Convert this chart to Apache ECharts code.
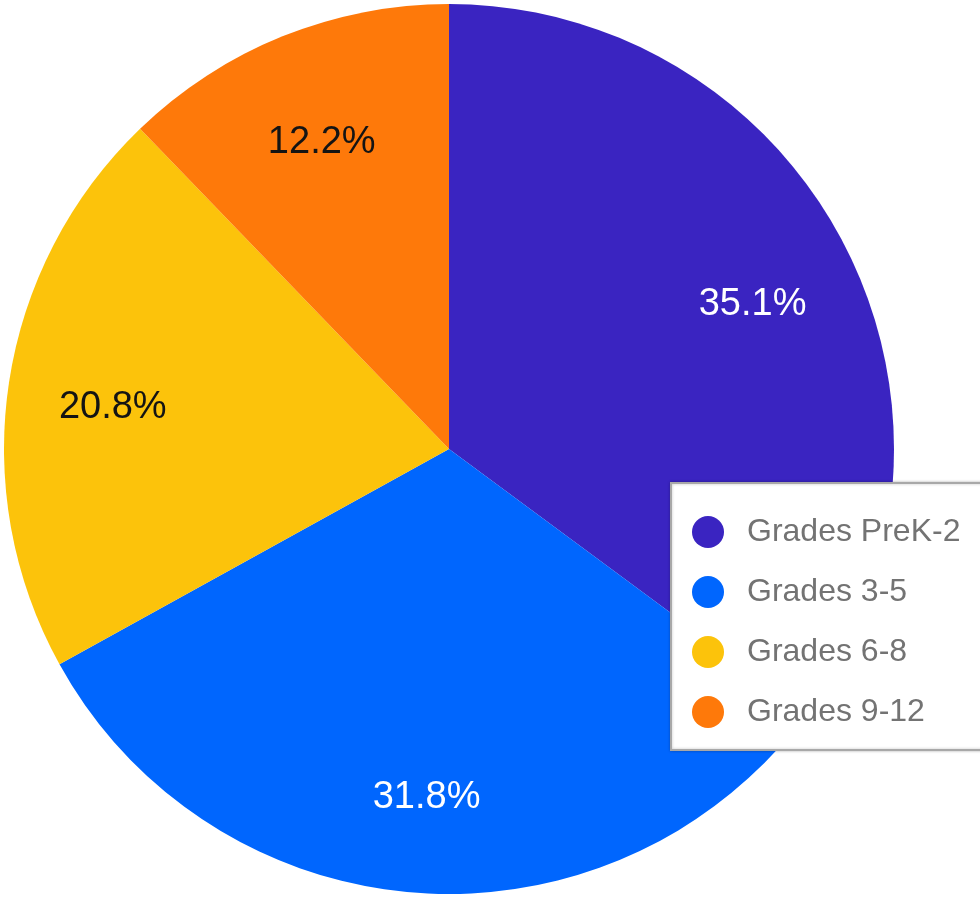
<!DOCTYPE html>
<html>
<head>
<meta charset="utf-8">
<script src="https://cdn.jsdelivr.net/npm/echarts@6/dist/echarts.min.js"></script>
<style>
html, body { margin: 0; padding: 0; background: #fff; }
#pie { width: 980px; height: 897px; }
</style>
</head>
<body>
<div id="pie"></div>
<script>
// 数据
var grades = ['Grades PreK-2', 'Grades 3-5', 'Grades 6-8', 'Grades 9-12'];
var shares = [35.1, 31.8, 20.8, 12.2];
var colors = ['#3a24c1', '#0066fe', '#fcc30b', '#fe790a'];
var labelColors = ['#ffffff', '#ffffff', '#141414', '#141414'];

function pie(obj){
    var myChart = echarts.init(obj);

    var slices = [];
    var labels = [];
    for(var i=0;i<grades.length;i++){
        slices.push({name: grades[i], value: shares[i], itemStyle: {color: colors[i]}});
        labels.push({value: shares[i], label: {color: labelColors[i]}});
    }

    var option = {
        animation: false,
        legend: {
            data: grades,
            orient: 'vertical',
            left: 671,
            top: 483,
            padding: [33, 40, 22, 21],
            itemWidth: 32,
            itemHeight: 32,
            itemGap: 28,
            icon: 'circle',
            backgroundColor: '#fff',
            borderColor: '#a8a8a8',
            borderWidth: 2,
            shadowColor: 'rgba(0,0,0,0.25)',
            shadowBlur: 3,
            textStyle: {
                fontFamily: 'Liberation Sans',
                fontSize: 32,
                color: '#737373',
                padding: [0, 0, 0, 18]
            }
        },
        series: [
            {
                type: 'pie',
                center: [449, 449],
                radius: [0, 445],
                startAngle: 90,
                clockwise: true,
                silent: true,
                label: {show: false},
                labelLine: {show: false},
                data: slices
            },
            {
                // 只放标签
                type: 'pie',
                center: [449, 449],
                radius: [229, 445],
                startAngle: 90,
                clockwise: true,
                silent: true,
                itemStyle: {color: 'rgba(0,0,0,0)'},
                label: {
                    show: true,
                    position: 'inside',
                    formatter: '{c}%',
                    fontFamily: 'Liberation Sans',
                    fontSize: 38,
                    offset: [0, 9]
                },
                labelLine: {show: false},
                data: labels
            }
        ]
    };

    myChart.setOption(option);
}

pie(document.getElementById('pie'));
</script>
</body>
</html>
